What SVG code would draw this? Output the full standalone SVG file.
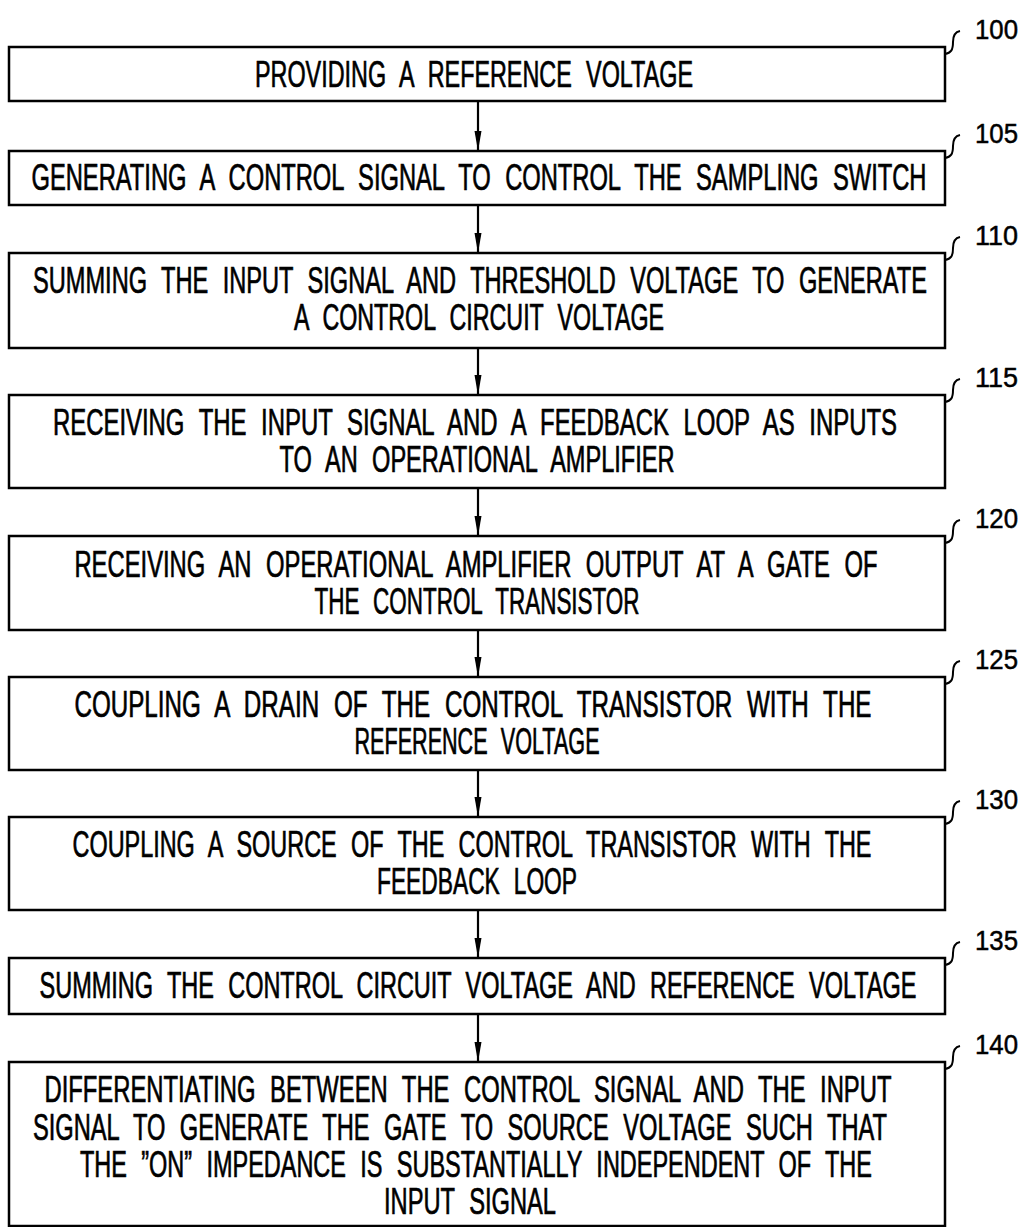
<svg xmlns="http://www.w3.org/2000/svg" width="1025" height="1227" viewBox="0 0 1025 1227">
<defs>
<style>
.box{fill:#fff;stroke:#000;stroke-width:2.5}
.t{font-family:"Liberation Sans",Arial,sans-serif;font-size:36px;fill:#000;stroke:#000;stroke-width:0.7;text-anchor:middle;word-spacing:12px}
.lbl{font-family:"Liberation Sans",Arial,sans-serif;font-size:28px;fill:#000;stroke:#000;stroke-width:0.5}
.hook{fill:none;stroke:#000;stroke-width:2}
.conn{stroke:#000;stroke-width:2.2;fill:none}
</style>
<marker id="ah" viewBox="0 0 20 8" refX="20" refY="4" markerWidth="20" markerHeight="8" markerUnits="userSpaceOnUse" orient="auto">
<path d="M0,0.5 L20,4 L0,7.5 Z" fill="#000"/>
</marker>
</defs>
<rect width="1025" height="1227" fill="#fff"/>

<g id="connectors">
<line class="conn" x1="478" y1="101" x2="478" y2="151" marker-end="url(#ah)"/>
<line class="conn" x1="478" y1="205" x2="478" y2="253" marker-end="url(#ah)"/>
<line class="conn" x1="478" y1="348" x2="478" y2="395" marker-end="url(#ah)"/>
<line class="conn" x1="478" y1="488" x2="478" y2="536" marker-end="url(#ah)"/>
<line class="conn" x1="478" y1="630" x2="478" y2="677" marker-end="url(#ah)"/>
<line class="conn" x1="478" y1="770" x2="478" y2="817" marker-end="url(#ah)"/>
<line class="conn" x1="478" y1="910" x2="478" y2="958" marker-end="url(#ah)"/>
<line class="conn" x1="478" y1="1014" x2="478" y2="1062" marker-end="url(#ah)"/>
</g>

<g id="n100">
<rect class="box" x="9" y="47" width="936" height="54"/>
<text class="t" transform="scale(0.62,1)" x="764.5" y="87" textLength="706.5" lengthAdjust="spacingAndGlyphs">PROVIDING A REFERENCE VOLTAGE</text>
<path class="hook" d="M945,54 C951,53 953,50 953,42 C953,35 955,32 960,31"/>
<text class="lbl" x="975" y="39" textLength="43" lengthAdjust="spacingAndGlyphs">100</text>
</g>

<g id="n105">
<rect class="box" x="9" y="151" width="936" height="54"/>
<text class="t" transform="scale(0.62,1)" x="772.6" y="190" textLength="1443.5" lengthAdjust="spacingAndGlyphs">GENERATING A CONTROL SIGNAL TO CONTROL THE SAMPLING SWITCH</text>
<path class="hook" d="M945,158 C951,157 953,154 953,146 C953,139 955,136 960,135"/>
<text class="lbl" x="975" y="143" textLength="43" lengthAdjust="spacingAndGlyphs">105</text>
</g>

<g id="n110">
<rect class="box" x="9" y="253" width="936" height="95"/>
<text class="t" transform="scale(0.62,1)" x="774.2" y="293" textLength="1441.9" lengthAdjust="spacingAndGlyphs">SUMMING THE INPUT SIGNAL AND THRESHOLD VOLTAGE TO GENERATE</text>
<text class="t" transform="scale(0.62,1)" x="772.6" y="330" textLength="596.8" lengthAdjust="spacingAndGlyphs">A CONTROL CIRCUIT VOLTAGE</text>
<path class="hook" d="M945,260 C951,259 953,256 953,248 C953,241 955,238 960,237"/>
<text class="lbl" x="975" y="245" textLength="43" lengthAdjust="spacingAndGlyphs">110</text>
</g>

<g id="n115">
<rect class="box" x="9" y="395" width="936" height="93"/>
<text class="t" transform="scale(0.62,1)" x="766.1" y="435" textLength="1361.3" lengthAdjust="spacingAndGlyphs">RECEIVING THE INPUT SIGNAL AND A FEEDBACK LOOP AS INPUTS</text>
<text class="t" transform="scale(0.62,1)" x="769.4" y="472" textLength="637.1" lengthAdjust="spacingAndGlyphs">TO AN OPERATIONAL AMPLIFIER</text>
<path class="hook" d="M945,402 C951,401 953,398 953,390 C953,383 955,380 960,379"/>
<text class="lbl" x="975" y="387" textLength="43" lengthAdjust="spacingAndGlyphs">115</text>
</g>

<g id="n120">
<rect class="box" x="9" y="536" width="936" height="94"/>
<text class="t" transform="scale(0.62,1)" x="767.7" y="577" textLength="1295.2" lengthAdjust="spacingAndGlyphs">RECEIVING AN OPERATIONAL AMPLIFIER OUTPUT AT A GATE OF</text>
<text class="t" transform="scale(0.62,1)" x="769.4" y="614" textLength="524.2" lengthAdjust="spacingAndGlyphs">THE CONTROL TRANSISTOR</text>
<path class="hook" d="M945,543 C951,542 953,539 953,531 C953,524 955,521 960,520"/>
<text class="lbl" x="975" y="528" textLength="43" lengthAdjust="spacingAndGlyphs">120</text>
</g>

<g id="n125">
<rect class="box" x="9" y="677" width="936" height="93"/>
<text class="t" transform="scale(0.62,1)" x="762.9" y="717" textLength="1285.5" lengthAdjust="spacingAndGlyphs">COUPLING A DRAIN OF THE CONTROL TRANSISTOR WITH THE</text>
<text class="t" transform="scale(0.62,1)" x="769.4" y="754" textLength="395.2" lengthAdjust="spacingAndGlyphs">REFERENCE VOLTAGE</text>
<path class="hook" d="M945,684 C951,683 953,680 953,672 C953,665 955,662 960,661"/>
<text class="lbl" x="975" y="669" textLength="43" lengthAdjust="spacingAndGlyphs">125</text>
</g>

<g id="n130">
<rect class="box" x="9" y="817" width="936" height="93"/>
<text class="t" transform="scale(0.62,1)" x="761.3" y="857" textLength="1288.7" lengthAdjust="spacingAndGlyphs">COUPLING A SOURCE OF THE CONTROL TRANSISTOR WITH THE</text>
<text class="t" transform="scale(0.62,1)" x="769.4" y="894" textLength="322.6" lengthAdjust="spacingAndGlyphs">FEEDBACK LOOP</text>
<path class="hook" d="M945,824 C951,823 953,820 953,812 C953,805 955,802 960,801"/>
<text class="lbl" x="975" y="809" textLength="43" lengthAdjust="spacingAndGlyphs">130</text>
</g>

<g id="n135">
<rect class="box" x="9" y="958" width="936" height="56"/>
<text class="t" transform="scale(0.62,1)" x="771.0" y="998" textLength="1414.5" lengthAdjust="spacingAndGlyphs">SUMMING THE CONTROL CIRCUIT VOLTAGE AND REFERENCE VOLTAGE</text>
<path class="hook" d="M945,965 C951,964 953,961 953,953 C953,946 955,943 960,942"/>
<text class="lbl" x="975" y="950" textLength="43" lengthAdjust="spacingAndGlyphs">135</text>
</g>

<g id="n140">
<rect class="box" x="9" y="1062" width="936" height="164"/>
<text class="t" transform="scale(0.62,1)" x="754.8" y="1102" textLength="1366.1" lengthAdjust="spacingAndGlyphs">DIFFERENTIATING BETWEEN THE CONTROL SIGNAL AND THE INPUT</text>
<text class="t" transform="scale(0.62,1)" x="741.9" y="1140" textLength="1377.4" lengthAdjust="spacingAndGlyphs">SIGNAL TO GENERATE THE GATE TO SOURCE VOLTAGE SUCH THAT</text>
<text class="t" transform="scale(0.62,1)" x="767.7" y="1177" textLength="1277.4" lengthAdjust="spacingAndGlyphs">THE ”ON” IMPEDANCE IS SUBSTANTIALLY INDEPENDENT OF THE</text>
<text class="t" transform="scale(0.62,1)" x="758.1" y="1214" textLength="277.4" lengthAdjust="spacingAndGlyphs">INPUT SIGNAL</text>
<path class="hook" d="M945,1069 C951,1068 953,1065 953,1057 C953,1050 955,1047 960,1046"/>
<text class="lbl" x="975" y="1054" textLength="43" lengthAdjust="spacingAndGlyphs">140</text>
</g>
</svg>
